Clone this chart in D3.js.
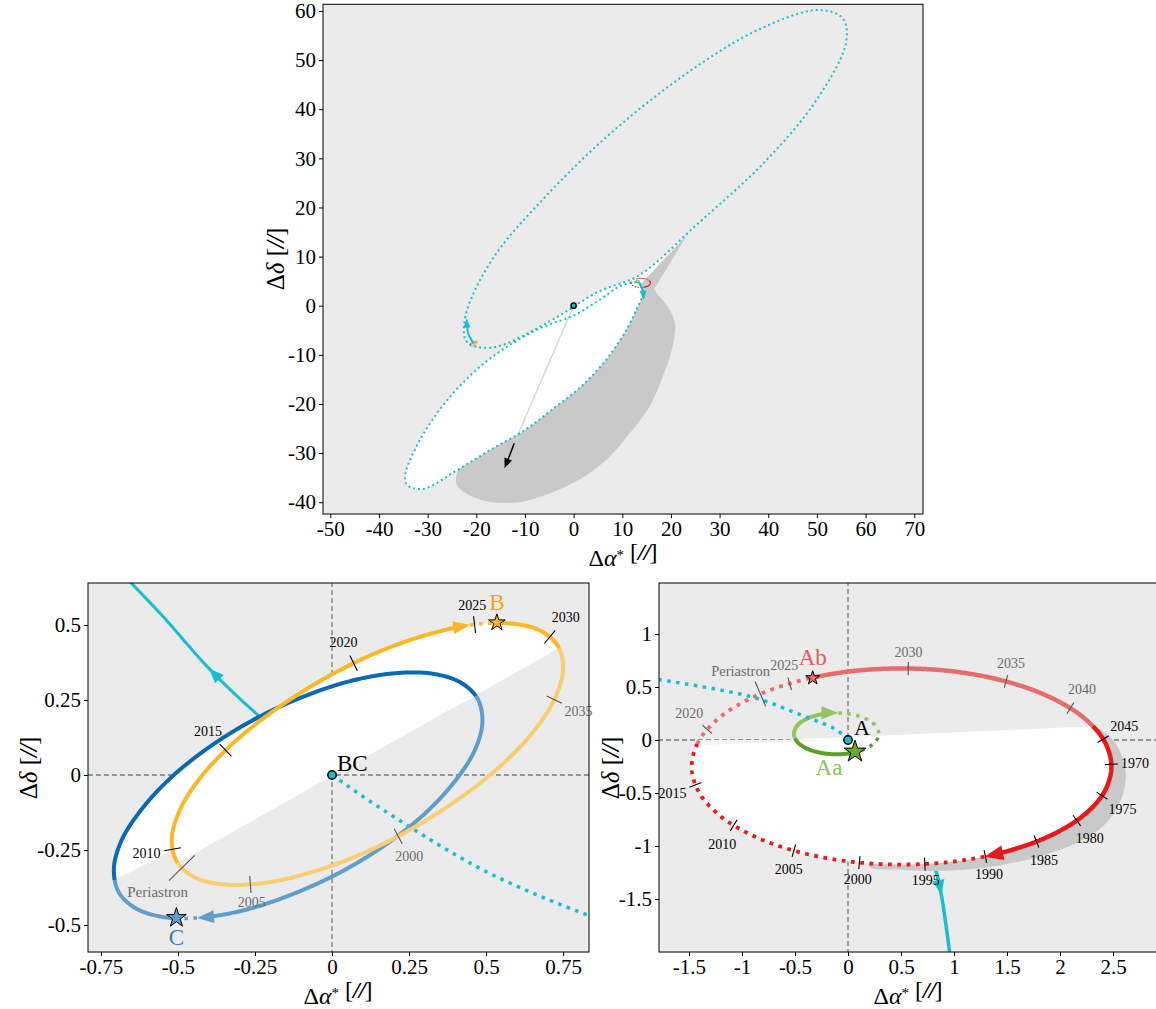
<!DOCTYPE html>
<html lang="en">
<head>
<meta charset="UTF-8" />
<title>Hierarchical orbits</title>
<script src="https://d3js.org/d3.v7.min.js"></script>
<style>
  body{margin:0;background:#fff}
  svg{display:block}
  text{font-family:"Liberation Serif","DejaVu Serif",serif}
</style>
</head>
<body>
<script>
// ---------- ticks ----------
const topXTicks = [-50,-40,-30,-20,-10,0,10,20,30,40,50,60,70];
const topYTicks = [-40,-30,-20,-10,0,10,20,30,40,50,60];
const blXTicks = [-0.75,-0.5,-0.25,0,0.25,0.5,0.75];
const blYTicks = [-0.5,-0.25,0,0.25,0.5];
const brXTicks = [-1.5,-1,-0.5,0,0.5,1,1.5,2,2.5];
const brYTicks = [-1.5,-1,-0.5,0,0.5,1];

// ---------- top panel: A and BC around the barycentre (arcsec) ----------
const bcOrbit = [[-21.9,-7.4],[-22.3,-2.5],[-16.8,9.3],[-5.5,22.5],[8.3,35.7],[24.1,47.9],[38.2,56.3],[50.3,60.2],[55.3,58.5],[56,53.6],[50.2,42.3],[39.7,29.7],[25.3,16.5],[13.6,6.3],[5,2.8],[-4.6,-3.0],[-16.7,-8.5]];
const aOrbit = [[13.5,4.6],[14.2,2.5],[12.9,-0.8],[10.5,-5.5],[6.7,-11],[1.5,-16.5],[-3.6,-20.5],[-10,-25.3],[-17.2,-29.4],[-24,-33.5],[-31,-37.3],[-34.2,-36.5],[-34.6,-34.5],[-32.3,-28.7],[-28.5,-22.5],[-24,-17],[-18.5,-11.8],[-12.5,-7.6],[-6.5,-4.4],[0,-2],[5.5,1.3],[10,4.2]];
const topShadow = [[14.2,4.7],[18,1.5],[20.7,-3],[20.4,-8],[18.5,-14],[15.6,-20.5],[11.5,-26],[6.7,-31.4],[1,-35.5],[-4.9,-38.2],[-10,-39.8],[-15.9,-40.1],[-20.5,-39],[-24.1,-36.2],[-22,-30],[-10,-15],[5,-3]];
const topWedge = [[14.0,4.6],[23.4,14.5],[16.5,3.3]];
const topLensEnds = [[23.4,14.5],[-14.5,-8.6]];
const topLensBack = [[0,-2.2],[14.0,4.6]];
const bcPos = [-20.5,-7.7];
const aPos = [13.3,4.9];
const bcArrowPath = [[-20.5,-7.7],[-21.6,-5.8],[-22.0,-2.6]];
const aArrowPath = [[13.3,4.9],[14.1,3.4],[14.4,1.2]];
const driftLine = [[0,0],[-12.2,-28]];
const driftArrow = [[-12.2,-28],[-13.2,-30.6],[-14.2,-33.1]];

// ---------- bottom left: B and C around BC ----------
const orbitB = [[0.259,-0.179],[0.094,-0.264],[-0.070,-0.325],[-0.221,-0.360],[-0.349,-0.365],[-0.446,-0.341],[-0.504,-0.288],[-0.520,-0.211],[-0.493,-0.115],[-0.425,-0.006],[-0.320,0.107],[-0.184,0.218],[-0.029,0.319],[0.136,0.404],[0.300,0.465],[0.451,0.500],[0.579,0.505],[0.676,0.481],[0.734,0.428],[0.750,0.351],[0.723,0.255],[0.655,0.146],[0.550,0.033],[0.414,-0.078]];
const bArrow = [0.448,0.498], bStar = [0.535,0.508], bNodes = [[-0.50,-0.29],[0.73,0.42]];
const orbitC = [[-0.544,-0.474],[-0.636,-0.445],[-0.692,-0.391],[-0.708,-0.313],[-0.684,-0.220],[-0.620,-0.117],[-0.523,-0.009],[-0.397,0.094],[-0.251,0.186],[-0.096,0.260],[0.059,0.313],[0.202,0.339],[0.324,0.338],[0.416,0.309],[0.472,0.255],[0.488,0.177],[0.464,0.084],[0.400,-0.019],[0.303,-0.127],[0.177,-0.230],[0.031,-0.322],[-0.125,-0.396],[-0.279,-0.449],[-0.422,-0.475]];
const cArrow = [-0.44,-0.475], cStar = [-0.505,-0.476], cNodes = [[-0.70,-0.35],[0.47,0.265]];
const bYears = ["2000","2005","2010","2015","2020","2025","2030","2035"];
const bYearPos = [[0.215,-0.202],[-0.266,-0.37],[-0.523,-0.247],[-0.344,0.083],[0.069,0.373],[0.464,0.5],[0.698,0.45],[0.711,0.258]];
const bPeri = [-0.494,-0.317];
const blCyanPast = [[0,0],[0.167,-0.117],[0.5,-0.322],[0.83,-0.467],[0.9,-0.49]];
const blCyanFuture = [[0,0],[-0.234,0.194],[-0.40,0.356],[-0.55,0.53],[-0.68,0.67]];
const blCyanHead = [-0.40,0.356];

// ---------- bottom right: Aa and Ab around A ----------
const orbitAb = [[2.485,-0.25],[2.418,-0.490],[2.220,-0.713],[1.905,-0.904],[1.495,-1.051],[1.018,-1.144],[0.505,-1.175],[-0.008,-1.144],[-0.485,-1.051],[-0.895,-0.904],[-1.210,-0.713],[-1.408,-0.490],[-1.475,-0.25],[-1.408,-0.010],[-1.210,0.213],[-0.895,0.404],[-0.485,0.551],[-0.008,0.644],[0.505,0.675],[1.018,0.644],[1.495,0.551],[1.905,0.404],[2.220,0.213],[2.418,-0.010]];
const abArrow = [1.29,-1.10], abStar = [-0.333,0.585], abNodes = [[2.30,0.12],[-1.42,-0.04]];
const abYears = ["1970","1975","1980","1985","1990","1995","2000","2005","2010","2015","2020","2025","2030","2035","2040","2045"];
const abYearPos = [[2.48,-0.23],[2.393,-0.519],[2.157,-0.764],[1.78,-0.962],[1.292,-1.1],[0.726,-1.163],[0.107,-1.148],[-0.511,-1.038],[-1.066,-0.792],[-1.42,-0.415],[-1.318,0.085],[-0.547,0.528],[0.569,0.676],[1.484,0.542],[2.094,0.292],[2.4,0.0]];
const abPeri = [-0.83,0.434];
const orbitAa = [[0.043,-0.12],[-0.11,-0.135],[-0.263,-0.12],[-0.393,-0.078],[-0.48,-0.015],[-0.51,0.06],[-0.48,0.135],[-0.393,0.198],[-0.263,0.24],[-0.11,0.255],[0.043,0.24],[0.173,0.198],[0.26,0.135],[0.29,0.06],[0.26,-0.015],[0.173,-0.078]];
const aaArrow = [-0.09,0.252], aaStar = [0.066,-0.11], aaNodes = [[0.285,0.02],[-0.50,0.02]];
const abShadow = [[2.33,0.11],[2.50,0.0],[2.60,-0.2],[2.62,-0.38],[2.56,-0.6],[2.42,-0.8],[2.18,-0.96],[1.84,-1.09],[1.5,-1.17],[1.15,-1.22],[0.8,-1.235],[0.5,-1.225],[0.2,-1.19],[0.3,-1.0],[1.5,-0.8],[2.2,-0.3],[2.2,0.0]];
const abLight = [[-1.42,0.0],[-1.42,-0.047],[0,0]];
const brCyanPast = [[0,0],[-0.107,0.094],[-0.48,0.25],[-0.92,0.41],[-1.85,0.58]];
const brCyanFuture = [[0,0],[0.45,-0.45],[0.805,-1.163],[0.88,-1.46],[0.97,-2.1]];
const brCyanHead = [0.88,-1.46];

const CYAN = "#17becf";
const BG = "#ebebeb", SHADE = "#c9c9c9";

const svg = d3.select("body").append("svg").attr("width", 1156).attr("height", 1009);
const defs = svg.append("defs");
const scratch = svg.append("g").attr("visibility", "hidden");

function makePanel(id, box, xd, yd) {
  const [x0, y0, x1, y1] = box;
  const sx = d3.scaleLinear().domain(xd).range([x0, x1]);
  const sy = d3.scaleLinear().domain(yd).range([y1, y0]);
  defs.append("clipPath").attr("id", id).append("rect")
    .attr("x", x0).attr("y", y0).attr("width", x1 - x0).attr("height", y1 - y0);
  const g = svg.append("g");
  g.append("rect").attr("x", x0).attr("y", y0).attr("width", x1 - x0).attr("height", y1 - y0).attr("fill", BG);
  const plot = g.append("g").attr("clip-path", `url(#${id})`);
  const px = (p, off = [0, 0]) => [sx(p[0] + off[0]), sy(p[1] + off[1])];
  return { sx, sy, g, plot, box, px };
}

function styleAxis(a) {
  a.select(".domain").remove();
  a.selectAll(".tick line").attr("stroke", "#000");
  a.selectAll(".tick text").attr("font-size", 21).attr("fill", "#000")
    .attr("font-family", "'Liberation Serif','DejaVu Serif',serif");
}

function axes(P, xt, yt) {
  const [x0, y0, x1, y1] = P.box;
  P.g.append("g").attr("transform", `translate(0,${y1})`)
    .call(d3.axisBottom(P.sx).tickValues(xt).tickFormat(d => String(d)).tickSize(4).tickSizeOuter(0)).call(styleAxis);
  P.g.append("g").attr("transform", `translate(${x0},0)`)
    .call(d3.axisLeft(P.sy).tickValues(yt).tickFormat(d => String(d)).tickSize(4).tickSizeOuter(0)).call(styleAxis);
  P.g.append("rect").attr("x", x0).attr("y", y0).attr("width", x1 - x0).attr("height", y1 - y0)
    .attr("fill", "none").attr("stroke", "#000").attr("stroke-width", 1);
}

// unit "[″]" drawn as two slanted strokes, like the TeX primes
function unit(t) {
  t.append("tspan").text(" [");
  t.append("tspan").attr("font-weight", "bold").attr("font-style", "italic").attr("letter-spacing", -1).text("//");
  t.append("tspan").text("]");
}
function xLabel(cx, y) {
  const t = svg.append("text").attr("x", cx).attr("y", y).attr("text-anchor", "middle").attr("font-size", 24);
  t.append("tspan").text("Δ");
  t.append("tspan").attr("font-style", "italic").text("α");
  t.append("tspan").attr("dy", -6).attr("font-size", 15).text("*");
  t.append("tspan").attr("dy", 6).text("");
  unit(t);
}
function yLabel(x, cy) {
  const t = svg.append("text").attr("transform", `translate(${x},${cy}) rotate(-90)`)
    .attr("text-anchor", "middle").attr("font-size", 25);
  t.append("tspan").text("Δ");
  t.append("tspan").attr("font-style", "italic").text("δ");
  unit(t);
}

function sampleCurve(pts, closed, n) {
  const curve = closed ? d3.curveCatmullRomClosed.alpha(0.5) : d3.curveCatmullRom.alpha(0.5);
  const node = scratch.append("path").attr("d", d3.line().curve(curve)(pts)).node();
  const L = node.getTotalLength();
  const s = [];
  const m = closed ? n : n + 1;
  for (let i = 0; i < m; i++) { const q = node.getPointAtLength(L * i / n); s.push([q.x, q.y]); }
  node.remove();
  s.step = L / n;
  return s;
}
const loopOf = (P, pts, off, n = 900) => sampleCurve(pts.map(p => P.px(p, off)), true, n);
const openOf = (P, pts, n = 300) => sampleCurve(pts.map(p => P.px(p)), false, n);

function nearest(s, p) {
  let best = 0, bd = Infinity;
  s.forEach((q, i) => { const d = (q[0] - p[0]) ** 2 + (q[1] - p[1]) ** 2; if (d < bd) { bd = d; best = i; } });
  return best;
}
const inRange = (i, a, b) => a <= b ? (i >= a && i < b) : (i >= a || i < b);

function orbitIndex(P, s, arrow, star, nodes, off) {
  return { ia: nearest(s, P.px(arrow, off)), is: nearest(s, P.px(star, off)),
           f0: nearest(s, P.px(nodes[0], off)), f1: nearest(s, P.px(nodes[1], off)) };
}

function head(layer, tip, from, len, wid, color) {
  const dx = tip[0] - from[0], dy = tip[1] - from[1], l = Math.hypot(dx, dy);
  const ux = dx / l, uy = dy / l;
  const bx = tip[0] - ux * len, by = tip[1] - uy * len;
  layer.append("path")
    .attr("d", `M${tip[0]},${tip[1]}L${bx - uy * wid / 2},${by + ux * wid / 2}L${bx + uy * wid / 2},${by - ux * wid / 2}Z`)
    .attr("fill", color);
}

function strokeOrbit(layer, s, idx, st) {
  const n = s.length;
  const gap = st.head ? Math.ceil(st.head[0] * 0.55 / s.step) : 0;
  const g0 = (idx.ia - gap + n) % n;
  const keyOf = i => {
    if (gap && inRange(i, g0, idx.ia)) return "h";
    return (inRange(i, idx.ia, idx.is) ? "d" : "s") + (inRange(i, idx.f0, idx.f1) ? "f" : "b");
  };
  const runs = [];
  let cur = null;
  for (let k = 0; k <= n; k++) {
    const i = (idx.is + k) % n, key = keyOf(i);
    if (cur && cur.key === key) { cur.pts.push(s[i]); continue; }
    if (cur) cur.pts.push(s[i]);
    cur = { key, pts: [s[i]] };
    runs.push(cur);
  }
  runs.forEach(r => {
    if (r.key === "h" || r.pts.length < 2) return;
    const dotted = r.key[0] === "d", front = r.key[1] === "f";
    layer.append("path").attr("d", d3.line()(r.pts)).attr("fill", "none")
      .attr("stroke", front ? st.front : st.back)
      .attr("stroke-width", dotted ? st.dotW : st.w)
      .attr("stroke-dasharray", dotted ? st.dash : null);
  });
  if (st.head) {
    head(layer, s[idx.ia], s[(idx.ia - 4 + n) % n], st.head[0], st.head[1],
      inRange(idx.ia, idx.f0, idx.f1) ? st.front : st.back);
  }
}

function frontFill(layer, s, idx, color) {
  const n = s.length, pts = [];
  for (let i = idx.f0; ; i = (i + 1) % n) { pts.push(s[i]); if (i === idx.f1) break; }
  layer.append("path").attr("d", d3.line()(pts) + "Z").attr("fill", color);
}

function epochMarks(layer, textLayer, P, s, idx, pos, labels, st) {
  const n = s.length;
  const cx = d3.mean(s, d => d[0]), cy = d3.mean(s, d => d[1]);
  pos.forEach((p, k) => {
    const i = nearest(s, P.px(p));
    const a = s[(i + 3) % n], b = s[(i - 3 + n) % n];
    let nx = -(a[1] - b[1]), ny = a[0] - b[0];
    const l = Math.hypot(nx, ny); nx /= l; ny /= l;
    const pt = s[i];
    if (nx * (pt[0] - cx) + ny * (pt[1] - cy) < 0) { nx = -nx; ny = -ny; }
    const front = inRange(i, idx.f0, idx.f1);
    layer.append("line")
      .attr("x1", pt[0] - nx * st.len / 2).attr("y1", pt[1] - ny * st.len / 2)
      .attr("x2", pt[0] + nx * st.len / 2).attr("y2", pt[1] + ny * st.len / 2)
      .attr("stroke", front ? "#000" : "#555").attr("stroke-width", 1.1);
    const d = st.len / 2 + 3 + Math.abs(nx) * st.hw + Math.abs(ny) * st.hh;
    textLayer.append("text").attr("x", pt[0] + nx * d + (st.dx || 0)).attr("y", pt[1] + ny * d)
      .attr("text-anchor", "middle").attr("dominant-baseline", "central")
      .attr("font-size", st.fs).attr("fill", front ? "#000" : "#6a6a6a").text(labels[k]);
  });
}

function star(layer, p, size, fill) {
  layer.append("path").attr("d", d3.symbol(d3.symbolStar, size)())
    .attr("transform", `translate(${p[0]},${p[1]})`)
    .attr("fill", fill).attr("stroke", "#000").attr("stroke-width", 1);
}
function dot(layer, p, r) {
  layer.append("circle").attr("cx", p[0]).attr("cy", p[1]).attr("r", r)
    .attr("fill", CYAN).attr("stroke", "#000").attr("stroke-width", 1.5);
}
function polyline(layer, s, color, w, dash) {
  return layer.append("path").attr("d", d3.line()(s)).attr("fill", "none")
    .attr("stroke", color).attr("stroke-width", w).attr("stroke-dasharray", dash || null);
}

const stB = { front: "#fdb726", back: "#f7cf72", w: 4, dotW: 3.5, dash: "3.5 5.5", head: [17, 13] };
const stC = { front: "#0a69b2", back: "#5f9dcc", w: 4, dotW: 3.5, dash: "3.5 5.5", head: [17, 13] };
const stAb = { front: "#e8191c", back: "#e86c6e", w: 4.5, dotW: 3.8, dash: "3.8 5.5", head: [19, 15] };
const stAa = { front: "#5c9e2a", back: "#93c462", w: 4, dotW: 3.5, dash: "3.5 5.5", head: [17, 13] };
const mini = st => Object.assign({}, st, { w: 1.3, dotW: 1.3, dash: "1.3 1.6", head: null });

// ================= top panel =================
const T = makePanel("clipT", [323, 4.3, 923, 514], [-51.5, 71.8], [-42.4, 61.36]);
{
  const L = T.plot;
  L.append("path").attr("d", d3.line().curve(d3.curveCatmullRomClosed.alpha(0.5))(topShadow.map(p => T.px(p)))).attr("fill", SHADE);
  L.append("path").attr("d", d3.line()(topWedge.map(p => T.px(p))) + "Z").attr("fill", SHADE);
  const sA = loopOf(T, aOrbit, [0, 0], 700);
  const sBC = loopOf(T, bcOrbit, [0, 0], 900);
  L.append("path").attr("d", d3.line()(sA) + "Z").attr("fill", "#fff");
  const iq = nearest(sBC, T.px(topLensEnds[0])), ip = nearest(sBC, T.px(topLensEnds[1]));
  const lens = [];
  for (let i = iq; ; i = (i + 1) % sBC.length) { lens.push(sBC[i]); if (i === ip) break; }
  topLensBack.forEach(p => lens.push(T.px(p)));
  L.append("path").attr("d", d3.line()(lens) + "Z").attr("fill", "#fff");

  polyline(L, driftLine.map(p => T.px(p)), "#d2d2d2", 1.3);
  L.append("path").attr("d", d3.line()(sBC) + "Z").attr("fill", "none").attr("stroke", CYAN).attr("stroke-width", 2).attr("stroke-dasharray", "2 3");
  L.append("path").attr("d", d3.line()(sA) + "Z").attr("fill", "none").attr("stroke", CYAN).attr("stroke-width", 2).attr("stroke-dasharray", "2 3");

  // small copies of the inner orbits
  [[orbitAb, abArrow, abStar, abNodes, stAb, aPos], [orbitAa, aaArrow, aaStar, aaNodes, stAa, aPos],
   [orbitC, cArrow, cStar, cNodes, stC, bcPos], [orbitB, bArrow, bStar, bNodes, stB, bcPos]].forEach(o => {
    const s = loopOf(T, o[0], o[5], 200);
    strokeOrbit(L, s, orbitIndex(T, s, o[1], o[2], o[3], o[5]), mini(o[4]));
  });

  [bcArrowPath, aArrowPath].forEach(path => {
    const s = openOf(T, path, 60);
    polyline(L, s.slice(0, -6), CYAN, 2);
    head(L, s[s.length - 1], s[s.length - 5], 9, 7, CYAN);
  });
  const sd = openOf(T, driftArrow, 60);
  polyline(L, sd.slice(0, -6), "#000", 1.5);
  head(L, sd[sd.length - 1], sd[sd.length - 5], 10, 8, "#000");
  dot(L, T.px([0, 0]), 2.6);
}
axes(T, topXTicks, topYTicks);
xLabel(623, 566);
yLabel(284, 259);

// ================= bottom left =================
const BL = makePanel("clipL", [88, 583, 589, 952], [-0.792, 0.834], [-0.59, 0.64]);
{
  const L = BL.plot;
  polyline(L, [BL.px([-1, 0]), BL.px([1, 0])], "#7a7a7a", 1.3, "5 3");
  polyline(L, [BL.px([0, -1]), BL.px([0, 1])], "#7a7a7a", 1.3, "5 3");
  const fut = openOf(BL, blCyanFuture);
  polyline(L, fut, CYAN, 3);
  const sB = loopOf(BL, orbitB), sC = loopOf(BL, orbitC);
  const iB = orbitIndex(BL, sB, bArrow, bStar, bNodes), iC = orbitIndex(BL, sC, cArrow, cStar, cNodes);
  frontFill(L, sC, iC, "#fff");
  frontFill(L, sB, iB, "#fff");
  polyline(L, openOf(BL, blCyanPast), CYAN, 3.5, "3.5 5.5");
  const hi = nearest(fut, BL.px(blCyanHead));
  head(L, fut[hi], fut[hi - 4], 15, 12, CYAN);
  strokeOrbit(L, sC, iC, stC);
  strokeOrbit(L, sB, iB, stB);
  epochMarks(L, BL.g, BL, sB, iB, bYearPos, bYears, { len: 17, hw: 14, hh: 6, fs: 14 });
  epochMarks(L, BL.g, BL, sB, iB, [bPeri], ["Periastron"], { len: 36, hw: 14, hh: 4, fs: 15 });
  star(L, BL.px(bStar), 85, "#fdb726");
  star(L, BL.px(cStar), 120, "#5f9dcc");
  dot(L, BL.px([0, 0]), 4.2);
  const o = BL.px([0, 0]), b = BL.px(bStar), c = BL.px(cStar);
  BL.g.append("text").attr("x", o[0] + 5).attr("y", o[1] - 4).attr("font-size", 23).text("BC");
  BL.g.append("text").attr("x", b[0]).attr("y", b[1] - 13).attr("text-anchor", "middle").attr("font-size", 23).attr("fill", "#eba71c").text("B");
  BL.g.append("text").attr("x", c[0]).attr("y", c[1] + 27).attr("text-anchor", "middle").attr("font-size", 23).attr("fill", "#3b7fc3").text("C");
}
axes(BL, blXTicks, blYTicks);
xLabel(338, 1004);
yLabel(37, 768);

// ================= bottom right =================
const BR = makePanel("clipR", [659, 583, 1157, 952], [-1.783, 2.915], [-2.0, 1.481]);
{
  const L = BR.plot;
  polyline(L, [BR.px([-3, 0]), BR.px([4, 0])], "#7a7a7a", 1.3, "5 3");
  polyline(L, [BR.px([0, -3]), BR.px([0, 3])], "#7a7a7a", 1.3, "5 3");
  const fut = openOf(BR, brCyanFuture);
  polyline(L, fut, CYAN, 3.5);
  L.append("path").attr("d", d3.line().curve(d3.curveCatmullRomClosed.alpha(0.5))(abShadow.map(p => BR.px(p)))).attr("fill", SHADE);
  const sAb = loopOf(BR, orbitAb), sAa = loopOf(BR, orbitAa, [0, 0], 400);
  const iAb = orbitIndex(BR, sAb, abArrow, abStar, abNodes), iAa = orbitIndex(BR, sAa, aaArrow, aaStar, aaNodes);
  frontFill(L, sAb, iAb, "#fff");
  L.append("path").attr("d", d3.line()(abLight.map(p => BR.px(p))) + "Z").attr("fill", "#f4f4f4");
  const hi = nearest(fut, BR.px(brCyanHead));
  head(L, fut[hi], fut[hi - 4], 15, 12, CYAN);
  strokeOrbit(L, sAb, iAb, stAb);
  strokeOrbit(L, sAa, iAa, stAa);
  polyline(L, openOf(BR, brCyanPast), CYAN, 3.5, "3.5 5.5");
  epochMarks(L, BR.g, BR, sAb, iAb, abYearPos, abYears, { len: 13, hw: 14, hh: 6, fs: 14 });
  epochMarks(L, BR.g, BR, sAb, iAb, [abPeri], ["Periastron"], { len: 27, hw: 10, hh: 5, fs: 14.5, dx: -10 });
  star(L, BR.px(abStar), 60, "#e86c6e");
  star(L, BR.px(aaStar), 150, "#6aa830");
  dot(L, BR.px([0, 0]), 4.2);
  const o = BR.px([0, 0]), ab = BR.px(abStar), aa = BR.px(aaStar);
  BR.g.append("text").attr("x", o[0] + 6).attr("y", o[1] - 5).attr("font-size", 22).text("A");
  BR.g.append("text").attr("x", ab[0]).attr("y", ab[1] - 13).attr("text-anchor", "middle").attr("font-size", 23).attr("fill", "#e45a5c").text("Ab");
  BR.g.append("text").attr("x", aa[0] - 26).attr("y", aa[1] + 23).attr("text-anchor", "middle").attr("font-size", 23).attr("fill", "#8cbf5a").text("Aa");
}
axes(BR, brXTicks, brYTicks);
xLabel(908, 1004);
yLabel(619, 768);
</script>
</body>
</html>
